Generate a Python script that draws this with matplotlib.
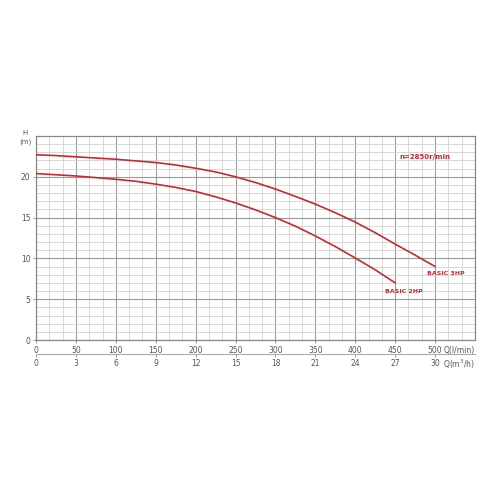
import numpy as np
import matplotlib.pyplot as plt
from matplotlib.ticker import MultipleLocator

# valeurs (Q en l/min, H en m)
q_3hp = [0, 25, 50, 75, 100, 125, 150, 175, 200, 225, 250,
         275, 300, 325, 350, 375, 400, 425, 450, 475, 500]
h_3hp = [22.7, 22.6, 22.45, 22.3, 22.15, 21.95, 21.75, 21.45, 21.05, 20.6, 20.0,
         19.3, 18.5, 17.6, 16.65, 15.6, 14.45, 13.15, 11.75, 10.4, 9.0]
q_2hp = [0, 25, 50, 75, 100, 125, 150, 175, 200, 225,
         250, 275, 300, 325, 350, 375, 400, 425, 450]
h_2hp = [20.4, 20.25, 20.1, 19.9, 19.7, 19.45, 19.1, 18.7, 18.2, 17.55,
         16.8, 15.95, 15.0, 13.95, 12.75, 11.45, 10.05, 8.6, 7.0]

q_ticks = [0, 50, 100, 150, 200, 250, 300, 350, 400, 450, 500]
m3h_ticks = [0, 3, 6, 9, 12, 15, 18, 21, 24, 27, 30]
h_ticks = [0, 5, 10, 15, 20]

red = '#c62a2f'
txt = '#555555'

fig = plt.figure(figsize=(5, 5), dpi=100)
ax = fig.add_axes([0.072, 0.32, 0.878, 0.408])

ax.plot(q_3hp, h_3hp, color=red, linewidth=1.2, zorder=3)
ax.plot(q_2hp, h_2hp, color=red, linewidth=1.2, zorder=3)

ax.set_xlim(0, 550)
ax.set_ylim(0, 25)
ax.set_xticks(q_ticks)
ax.set_yticks(h_ticks)
ax.xaxis.set_minor_locator(MultipleLocator(50 / 3))
ax.yaxis.set_minor_locator(MultipleLocator(1))
ax.grid(True, which='major', color='#9a9a9a', linewidth=0.8)
ax.grid(True, which='minor', color='#d2d2d2', linewidth=0.6)
ax.set_axisbelow(True)

ax.tick_params(axis='both', which='major', labelsize=5.5, labelcolor=txt,
               length=2, width=0.6, color='#888888', pad=2)
ax.tick_params(axis='both', which='minor', length=0)
for s in ax.spines.values():
    s.set_color('#888888')
    s.set_linewidth(0.9)

# axe secondaire en m3/h
sec = ax.secondary_xaxis(-0.068, functions=(lambda x: x * 3 / 50, lambda x: x * 50 / 3))
sec.set_xticks(m3h_ticks)
sec.tick_params(labelsize=5.5, labelcolor=txt, length=2, width=0.6, color='#888888', pad=2)
sec.spines['bottom'].set_color('#aaaaaa')
sec.spines['bottom'].set_linewidth(0.8)

ax.text(1.0, -0.03, 'Q(l/min)', transform=ax.transAxes, ha='right', va='top',
        fontsize=5.5, color=txt)
ax.text(1.0, -0.088, 'Q(m$^3$/h)', transform=ax.transAxes, ha='right', va='top',
        fontsize=5.5, color=txt)
ax.text(-0.018, 1.0, 'H', transform=ax.transAxes, ha='right', va='bottom',
        fontsize=5, color=txt)
ax.text(-0.01, 0.99, '(m)', transform=ax.transAxes, ha='right', va='top',
        fontsize=5, color=txt)

ax.text(487, 22.4, 'n=2850r/min', ha='center', va='center', fontsize=5,
        color=red, fontweight='bold')
ax.text(514, 8.1, 'BASIC 3HP', ha='center', va='center', fontsize=4.5,
        color=red, fontweight='bold')
ax.text(461, 6.0, 'BASIC 2HP', ha='center', va='center', fontsize=4.5,
        color=red, fontweight='bold')

fig.savefig('out.png', dpi=100)
